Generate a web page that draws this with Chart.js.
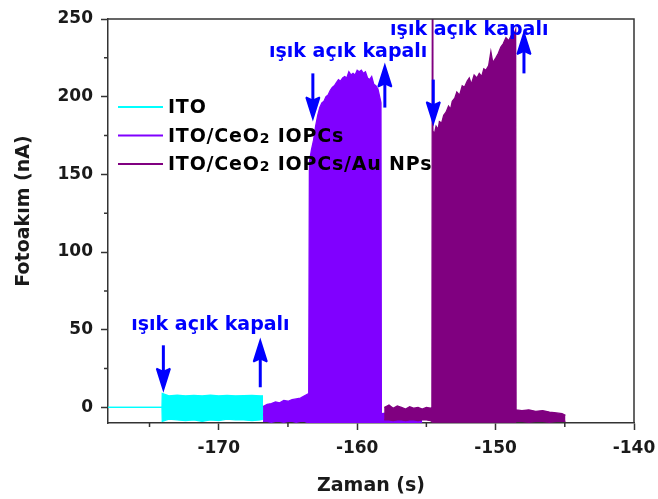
<!DOCTYPE html>
<html>
<head>
<meta charset="utf-8">
<script src="https://cdn.jsdelivr.net/npm/chart.js@4/dist/chart.umd.min.js"></script>
<style>
  html, body { margin: 0; padding: 0; background: #ffffff; }
  canvas { display: block; }
</style>
</head>
<body>
<canvas id="chart" width="658" height="499"></canvas>
<script>
// Axis ranges and ticks
const xRange = [-178, -140];
const yRange = [-10, 250];
const xMajorTicks = [-170, -160, -150, -140];
const xMinorTicks = [-175, -165, -155, -145];
const yMajorTicks = [0, 50, 100, 150, 200, 250];
const yMinorTicks = [25, 75, 125, 175, 225];

const seriesNames = ['ITO', 'ITO/CeO2 IOPCs', 'ITO/CeO2 IOPCs/Au NPs'];
const seriesColors = ['#00ffff', '#8000ff', '#800080'];

// ITO: dark baseline, then light on/off band (upper and lower envelope, nA)
const itoTime   = [-178, -174.1, -174.08, -173.6, -173.0, -172.4, -171.8, -171.2, -170.6, -170.0, -169.4, -168.8, -168.2, -167.6, -167.0, -166.8];
const itoTop    = [0, 0, 9, 7.5, 8, 7.5, 7.8, 7.5, 8, 7.5, 7.8, 7.5, 7.6, 7.8, 7.5, 7.5];
const itoBottom = [0, 0, -9, -7.5, -8, -8.5, -8, -9, -8, -8.5, -7.5, -8, -8, -8.5, -8, -7.5];

// ITO/CeO2 IOPCs: dark band, illuminated block, dark band
const purpleTime = [
  -166.8, -166.5, -166.2, -165.9, -165.6, -165.3, -165.0, -164.7, -164.4, -164.1, -163.8, -163.5,
  -163.45, -163.3, -163.15, -163.0, -162.85, -162.7, -162.55, -162.4, -162.25, -162.1, -161.95, -161.8,
  -161.65, -161.5, -161.35, -161.2, -161.05, -160.9, -160.75, -160.6, -160.45, -160.3, -160.15, -160.0,
  -159.85, -159.7, -159.55, -159.4, -159.25, -159.1, -158.95, -158.8, -158.65, -158.5, -158.35, -158.28,
  -158.25, -157.8, -157.3, -156.8, -156.3, -155.8, -155.3
];
const purpleTop = [
  0.5, 2, 2.5, 3.5, 3, 4.5, 4, 5, 5.5, 6, 7.5, 9,
  158, 166, 172, 181, 188, 193, 196, 197, 200, 201, 204, 206,
  207, 209, 211, 210, 212, 213, 212, 216, 214, 215, 214, 217,
  216, 217, 215, 216, 212, 211, 213, 208, 207, 205, 199, 196,
  -4, -3.5, -4.5, -4, -5, -4.5, -5
];
const purpleBottom = [
  -9, -9, -9.5, -9, -9, -9.5, -9, -9, -9.5, -9, -9, -10,
  -10, -10, -10, -10, -10, -10, -10, -10, -10, -10, -10, -10,
  -10, -10, -10, -10, -10, -10, -10, -10, -10, -10, -10, -10,
  -10, -10, -10, -10, -10, -10, -10, -10, -10, -10, -10, -10,
  -10, -10, -10, -10, -10, -10, -10
];

// ITO/CeO2 IOPCs/Au NPs: dark band, illuminated block, dark band
const maroonTime = [
  -158.05, -157.7, -157.4, -157.1, -156.8, -156.5, -156.2, -155.9, -155.6, -155.3, -155.0, -154.7, -154.6,
  -154.57, -154.53, -154.42, -154.3, -154.15, -154.06, -153.9, -153.75, -153.58, -153.4, -153.25, -153.13,
  -152.95, -152.8, -152.6, -152.41, -152.25, -152.05, -151.9, -151.75, -151.55, -151.35, -151.18, -151.0,
  -150.85, -150.7, -150.5, -150.34, -150.2, -149.98, -149.8, -149.62, -149.45, -149.25, -149.05, -148.89,
  -148.75, -148.66, -148.55,
  -148.52, -148.1, -147.6, -147.1, -146.6, -146.1, -145.6, -145.2, -144.95
];
const maroonTop = [
  0, 1.5, -0.5, 1, 0, -1, 0.5, -0.5, 0, -1, 0, -0.5, 0,
  265, 178, 176, 181, 179, 184, 183, 188, 190, 194, 192, 197,
  199, 203, 201, 207, 206, 210, 212, 208, 214, 212, 215, 213,
  218, 217, 220, 229, 222, 225, 228, 232, 234, 238, 236, 239,
  241, 240, 243,
  -1.5, -2, -1.5, -2.5, -2, -3, -3.5, -4, -5
];
const maroonBottom = [
  -8, -8, -8.5, -8, -8, -8.5, -8, -8, -8.5, -8, -8, -8.5, -9,
  -9.5, -9.5, -9.5, -9.5, -9.5, -9.5, -9.5, -9.5, -9.5, -9.5, -9.5, -9.5,
  -9.5, -9.5, -9.5, -9.5, -9.5, -9.5, -9.5, -9.5, -9.5, -9.5, -9.5, -9.5,
  -9.5, -9.5, -9.5, -9.5, -9.5, -9.5, -9.5, -9.5, -9.5, -9.5, -9.5, -9.5,
  -9.5, -9.5, -9.5,
  -9, -9, -9.5, -9, -9, -9.5, -9, -9, -9
];

// Light on / off markers (data units)
const noteText = 'ışık açık kapalı';
const noteX = [-170.6, -160.65, -151.9];
const noteY = [53, 229, 243];
const onArrowX = [-174.0, -163.2, -154.5];
const onArrowFrom = [40, 215, 211];
const onArrowTo = [9.5, 184, 181];
const offArrowX = [-167.0, -158.0, -147.95];
const offArrowFrom = [13, 193, 215];
const offArrowTo = [45, 222, 243];

const xTitle = 'Zaman (s)';
const yTitle = 'Fotoakım (nA)';

const FONT = "'DejaVu Sans', 'Liberation Sans', sans-serif";
const AXIS_COLOR = '#333333';
const TEXT_COLOR = '#1a1a1a';

const datasets = [];
function addSeries(time, top, bottom, color) {
  const common = { borderColor: color, backgroundColor: color, borderWidth: 1.3, pointRadius: 0, tension: 0 };
  datasets.push(Object.assign({ data: time.map((t, i) => ({ x: t, y: top[i] })), fill: '+1' }, common));
  datasets.push(Object.assign({ data: time.map((t, i) => ({ x: t, y: bottom[i] })), fill: false }, common));
}
// first dataset is painted on top
addSeries(maroonTime, maroonTop, maroonBottom, seriesColors[2]);
addSeries(purpleTime, purpleTop, purpleBottom, seriesColors[1]);
addSeries(itoTime, itoTop, itoBottom, seriesColors[0]);

// top/right frame, minor ticks and the vertical axis title
const framePlugin = {
  id: 'frame',
  afterDraw(chart) {
    const { ctx, chartArea: a, scales: { x, y } } = chart;
    ctx.save();
    ctx.strokeStyle = AXIS_COLOR;
    ctx.lineWidth = 1.5;
    ctx.beginPath();
    ctx.moveTo(a.left, a.top);
    ctx.lineTo(a.right, a.top);
    ctx.lineTo(a.right, a.bottom);
    xMinorTicks.forEach(v => {
      const px = x.getPixelForValue(v);
      ctx.moveTo(px, a.bottom);
      ctx.lineTo(px, a.bottom + 4);
    });
    yMinorTicks.forEach(v => {
      const py = y.getPixelForValue(v);
      ctx.moveTo(a.left, py);
      ctx.lineTo(a.left - 4, py);
    });
    ctx.stroke();

    ctx.translate(a.left - 84, (a.top + a.bottom) / 2 - 10);
    ctx.rotate(-Math.PI / 2);
    ctx.fillStyle = TEXT_COLOR;
    ctx.font = 'bold 19px ' + FONT;
    ctx.textAlign = 'center';
    ctx.textBaseline = 'middle';
    ctx.fillText(yTitle, 0, 0);
    ctx.restore();
  }
};

// label text with a smaller "2" in CeO2
function drawRichLabel(ctx, text, x0, baseline) {
  const parts = text.split(/(2)/);
  let x = x0;
  parts.forEach(p => {
    if (!p) return;
    if (p === '2') {
      ctx.font = 'bold 14px ' + FONT;
      ctx.fillText(p, x, baseline + 1);
    } else {
      ctx.font = 'bold 19px ' + FONT;
      ctx.fillText(p, x, baseline);
    }
    x += ctx.measureText(p).width;
  });
}

const legendPlugin = {
  id: 'insetLegend',
  afterDatasetsDraw(chart) {
    const { ctx, chartArea: a } = chart;
    ctx.save();
    ctx.textAlign = 'left';
    ctx.textBaseline = 'alphabetic';
    ctx.letterSpacing = '0.8px';
    seriesNames.forEach((name, i) => {
      const yy = a.top + 88 + i * 28.5;
      ctx.strokeStyle = seriesColors[i];
      ctx.lineWidth = 2;
      ctx.beginPath();
      ctx.moveTo(a.left + 10, yy);
      ctx.lineTo(a.left + 55, yy);
      ctx.stroke();
      ctx.fillStyle = '#000000';
      drawRichLabel(ctx, name, a.left + 60, yy + 6);
    });
    ctx.restore();
  }
};

function drawArrow(ctx, px, pyFrom, pyTo) {
  const dir = pyTo > pyFrom ? 1 : -1;
  const headLen = 25, headHalf = 7.5;
  ctx.beginPath();
  ctx.moveTo(px, pyFrom);
  ctx.lineTo(px, pyTo - dir * headLen * 0.85);
  ctx.stroke();
  ctx.beginPath();
  ctx.moveTo(px, pyTo);
  ctx.lineTo(px - headHalf, pyTo - dir * headLen * 0.95);
  ctx.lineTo(px - headHalf + 1, pyTo - dir * headLen);
  ctx.lineTo(px, pyTo - dir * headLen * 0.88);
  ctx.lineTo(px + headHalf - 1, pyTo - dir * headLen);
  ctx.lineTo(px + headHalf, pyTo - dir * headLen * 0.95);
  ctx.closePath();
  ctx.fill();
}

const notesPlugin = {
  id: 'lightNotes',
  afterDatasetsDraw(chart) {
    const { ctx, scales: { x, y } } = chart;
    ctx.save();
    ctx.fillStyle = '#0000ff';
    ctx.strokeStyle = '#0000ff';
    ctx.lineWidth = 3;
    ctx.font = 'bold 19px ' + FONT;
    ctx.textAlign = 'center';
    ctx.textBaseline = 'middle';
    noteX.forEach((v, i) => {
      ctx.fillText(noteText, x.getPixelForValue(v), y.getPixelForValue(noteY[i]));
    });
    onArrowX.forEach((v, i) => {
      drawArrow(ctx, x.getPixelForValue(v), y.getPixelForValue(onArrowFrom[i]), y.getPixelForValue(onArrowTo[i]));
    });
    offArrowX.forEach((v, i) => {
      drawArrow(ctx, x.getPixelForValue(v), y.getPixelForValue(offArrowFrom[i]), y.getPixelForValue(offArrowTo[i]));
    });
    ctx.restore();
  }
};

const tickFont = { family: FONT, size: 17, weight: 'bold' };
const titleFont = { family: FONT, size: 19, weight: 'bold' };

new Chart(document.getElementById('chart'), {
  type: 'line',
  data: { datasets },
  options: {
    responsive: false,
    animation: false,
    events: [],
    layout: { padding: { top: 19, right: 24, bottom: 0, left: 0 } },
    plugins: { legend: { display: false }, tooltip: { enabled: false } },
    scales: {
      x: {
        type: 'linear',
        min: xRange[0],
        max: xRange[1],
        afterBuildTicks: s => { s.ticks = xMajorTicks.map(v => ({ value: v })); },
        afterFit: s => { s.height = 76; s.paddingLeft = 0; s.paddingRight = 0; },
        grid: { drawOnChartArea: false, drawTicks: true, tickLength: 7, tickColor: AXIS_COLOR, tickWidth: 1.5 },
        border: { display: true, color: AXIS_COLOR, width: 1.5 },
        ticks: { font: tickFont, color: TEXT_COLOR, padding: 8, maxRotation: 0, autoSkip: false },
        title: { display: true, text: xTitle, font: titleFont, color: TEXT_COLOR, padding: { top: 0, bottom: 2 } }
      },
      y: {
        type: 'linear',
        min: yRange[0],
        max: yRange[1],
        afterBuildTicks: s => { s.ticks = yMajorTicks.map(v => ({ value: v })); },
        afterFit: s => { s.width = 108; s.paddingTop = 0; s.paddingBottom = 0; },
        grid: { drawOnChartArea: false, drawTicks: true, tickLength: 7, tickColor: AXIS_COLOR, tickWidth: 1.5 },
        border: { display: true, color: AXIS_COLOR, width: 1.5 },
        ticks: { font: tickFont, color: TEXT_COLOR, padding: 8, autoSkip: false },
        title: { display: false }
      }
    }
  },
  plugins: [framePlugin, legendPlugin, notesPlugin]
});
</script>
</body>
</html>
